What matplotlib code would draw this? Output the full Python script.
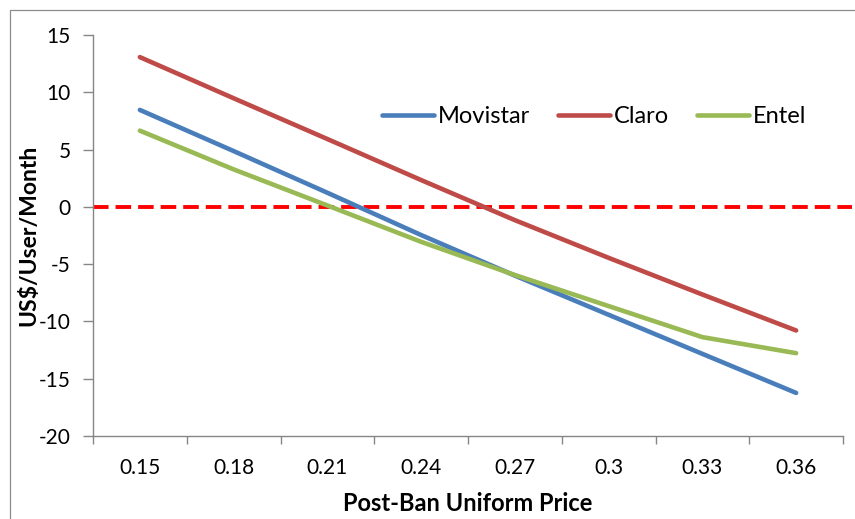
import matplotlib.pyplot as plt
import numpy as np
from matplotlib.patches import Rectangle

plt.rcParams['font.family'] = ['Lato', 'DejaVu Sans']
plt.rcParams['axes.unicode_minus'] = False

prices = ['0.15', '0.18', '0.21', '0.24', '0.27', '0.3', '0.33', '0.36']
movistar = [8.46, 4.87, 1.23, -2.46, -6.0, -9.42, -12.83, -16.24]
claro = [13.07, 9.48, 5.92, 2.34, -1.16, -4.45, -7.65, -10.79]
entel = [6.65, 3.27, 0.12, -3.05, -5.95, -8.66, -11.37, -12.77]

fig = plt.figure(figsize=(8.55, 5.19), dpi=100)
ax = fig.add_axes([93/855, 1 - 436/519, 750/855, 401/519])

# outer chart frame
fig.patches.append(Rectangle((10/855, -0.05), 1.1, 1 - 10/519 + 0.05,
                             transform=fig.transFigure, fill=False,
                             edgecolor='#8c8c8c', linewidth=0.9))

x = np.arange(len(prices))
ax.plot(x, movistar, color='#4A7EBB', lw=3.3, solid_capstyle='round', label='Movistar')
ax.plot(x, claro, color='#BE4B48', lw=3.3, solid_capstyle='round', label='Claro')
ax.plot(x, entel, color='#98B954', lw=3.3, solid_capstyle='round', label='Entel')

# zero line
ax.plot([-0.5, 7.6], [0, 0], color='#FF0000', lw=2.8, ls=(0, (4.0, 1.8)),
        clip_on=False, zorder=1)

ax.set_xlim(-0.5, 7.5)
ax.set_ylim(-20, 15)
ax.set_yticks(np.arange(-20, 16, 5))

ax.set_xticks(np.arange(-0.5, 8, 1))
ax.set_xticklabels([])
ax.set_xticks(x, minor=True)
ax.set_xticklabels(prices, minor=True)
ax.tick_params(axis='x', which='major', length=6, width=1, color='#868686', direction='out')
ax.tick_params(axis='x', which='minor', length=0, pad=16, labelsize=15)
ax.tick_params(axis='y', length=7, width=1, color='#868686', labelsize=15, pad=9)

for s in ['top', 'right']:
    ax.spines[s].set_visible(False)
for s in ['left', 'bottom']:
    ax.spines[s].set_color('#868686')
    ax.spines[s].set_linewidth(1)

ax.set_xlabel('Post-Ban Uniform Price', fontsize=17, fontweight='bold', labelpad=10)
ax.set_ylabel('US$/User/Month', fontsize=16.5, fontweight='bold', labelpad=0)

ax.legend(loc='center', bbox_to_anchor=(0.668, 0.797), ncol=3, frameon=False,
          fontsize=17, handlelength=2.2, handletextpad=0.15, columnspacing=1.2)

fig.savefig('out.png', dpi=100)
